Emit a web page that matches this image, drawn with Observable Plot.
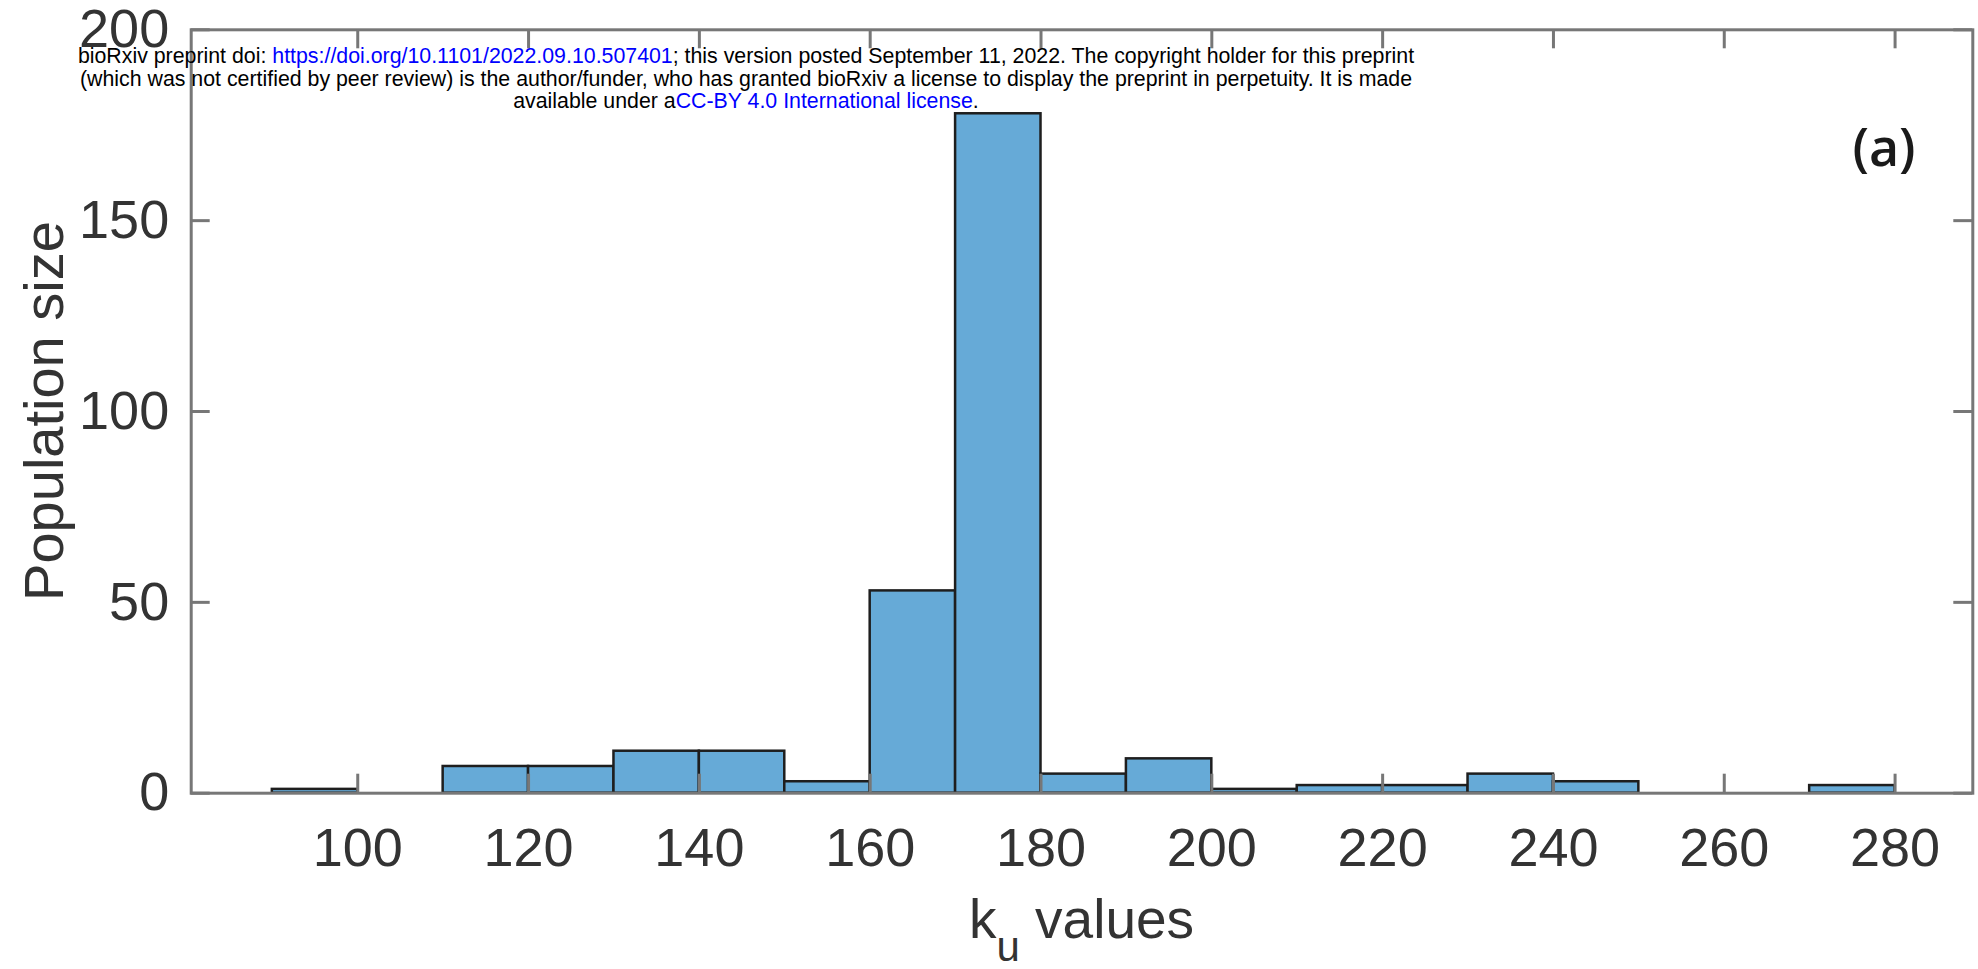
<!DOCTYPE html>
<html>
<head>
<meta charset="utf-8">
<script src="https://cdn.jsdelivr.net/npm/d3@7"></script>
<script src="https://cdn.jsdelivr.net/npm/@observablehq/plot@0.6"></script>
<style>
  html, body { margin: 0; padding: 0; background: #fff; overflow: hidden; }
  #wrap { position: relative; width: 1978px; height: 969px; }
  #header { position: absolute; left: 0; top: 45px; width: 1492px; text-align: center;
            font-family: "Liberation Sans", Arial, sans-serif; color: #000; line-height: 22.5px; z-index: 2; }
  #header div { white-space: nowrap; }
  #header span.l { color: #0000ff; }
</style>
</head>
<body>
<div id="wrap">
  <div id="header">
    <div><span id="line1">bioRxiv preprint doi: <span class="l">https://doi.org/10.1101/2022.09.10.507401</span>; this version posted September 11, 2022. The copyright holder for this preprint</span></div>
    <div>(which was not certified by peer review) is the author/funder, who has granted bioRxiv a license to display the preprint in perpetuity. It is made</div>
    <div>available under a<span class="l">CC-BY 4.0 International license</span>.</div>
  </div>
  <div id="chart"></div>
</div>
<script>
// ---- data ----
const binStarts = [90, 100, 110, 120, 130, 140, 150, 160, 170, 180, 190, 200, 210, 220, 230, 240, 250, 260, 270];
const binWidth = 10;
const counts    = [1, 0, 7, 7, 11, 11, 3, 53, 178, 5, 9, 1, 2, 2, 5, 3, 0, 0, 2];
const xTicks = [100, 120, 140, 160, 180, 200, 220, 240, 260, 280];
const yTicks = [0, 50, 100, 150, 200];
const xDomain = [80.5, 289.1];
const yDomain = [0, 200];
const yTitle = "Population size";
const xTitleMain = "k", xTitleSub = "u", xTitleRest = " values";
const panelLabel = "(a)";

const bins = binStarts.map((s, i) => ({lo: s, hi: s + binWidth, count: counts[i]}));

const W = 1978, H = 969;
const mL = 190.7, mR = 5.7, mT = 29.3, mB = 176.3;
const innerW = W - mL - mR, innerH = H - mT - mB;
const tickLen = 19;
const axisGray = "#777";

const plot = Plot.plot({
  width: W, height: H,
  marginLeft: mL, marginRight: mR, marginTop: mT, marginBottom: mB,
  style: {fontFamily: "'Liberation Sans', Arial, sans-serif", fontSize: "54px", color: "#333", background: "#fff", overflow: "visible"},
  x: {domain: xDomain, ticks: xTicks, tickSize: 0, tickPadding: 34, tickFormat: d => String(d), label: null},
  y: {domain: yDomain, ticks: yTicks, tickSize: 0, tickPadding: 22, label: null},
  marks: [
    Plot.rectY(bins, {filter: d => d.count > 0, x1: "lo", x2: "hi", y: "count", fill: "#66aad7", stroke: "#1e1e1e", strokeWidth: 2.5, inset: 0}),
    Plot.frame({stroke: axisGray, strokeWidth: 3}),
    Plot.tickX(xTicks, {x: d => d, stroke: axisGray, strokeWidth: 3, insetTop: innerH - tickLen}),
    Plot.tickX(xTicks, {x: d => d, stroke: axisGray, strokeWidth: 3, insetBottom: innerH - tickLen}),
    Plot.tickY(yTicks, {y: d => d, stroke: axisGray, strokeWidth: 3, insetRight: innerW - tickLen}),
    Plot.tickY(yTicks, {y: d => d, stroke: axisGray, strokeWidth: 3, insetLeft: innerW - tickLen})
  ]
});
document.getElementById("chart").appendChild(plot);

const svg = d3.select(plot);
// y title
svg.append("text")
  .attr("transform", `translate(63, ${mT + innerH / 2}) rotate(-90)`)
  .attr("text-anchor", "middle")
  .attr("font-size", 56)
  .attr("fill", "#333")
  .text(yTitle);
// x title with subscript
const xt = svg.append("text")
  .attr("x", mL + innerW / 2)
  .attr("y", 938)
  .attr("text-anchor", "middle")
  .attr("font-size", 55)
  .attr("fill", "#333");
xt.append("tspan").text(xTitleMain);
xt.append("tspan").attr("dy", 23).attr("font-size", 42).text(xTitleSub);
xt.append("tspan").attr("dy", -23).text(xTitleRest);
// panel label
svg.append("text")
  .attr("x", 1884).attr("y", 166)
  .attr("text-anchor", "middle")
  .attr("font-family", "'Open Sans', sans-serif")
  .attr("font-weight", 600)
  .attr("font-size", 52)
  .attr("fill", "#1a1a1a")
  .text(panelLabel);

// fit header font size
const header = document.getElementById("header");
header.style.fontSize = "18px";
const w1 = document.getElementById("line1").getBoundingClientRect().width;
header.style.fontSize = (18 * 1337 / w1) + "px";
</script>
</body>
</html>
